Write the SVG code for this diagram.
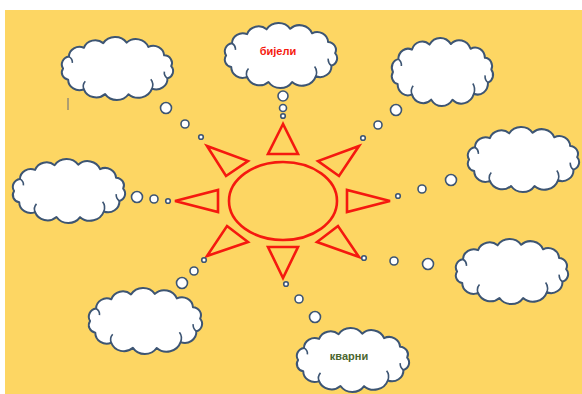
<svg xmlns="http://www.w3.org/2000/svg" xmlns:xlink="http://www.w3.org/1999/xlink" width="582" height="394" viewBox="0 0 582 394">
<style>
.cloud{fill:#fff;stroke:#3d5573;stroke-width:2;vector-effect:non-scaling-stroke;stroke-linejoin:round}
.inner{fill:none;stroke:#3d5573;stroke-width:1.6;vector-effect:non-scaling-stroke}
.dot{fill:#fff;stroke:#3d5573;stroke-width:1.6}
.ray{fill:none;stroke:#f5190f;stroke-width:2.6;stroke-linejoin:miter}
.lbl{font-family:"Liberation Sans","DejaVu Sans",sans-serif;font-weight:bold;font-size:11px;text-anchor:middle}
</style>
<defs>
<g id="cloudShape">
<path class="cloud" d="M6,33 A7.8,7.8 0 0 1 11.4,21.2 A9.8,9.8 0 0 1 25.2,12.5 A11.1,11.1 0 0 1 43.1,7.9 A13,13 0 0 1 64.7,7.4 A12.3,12.3 0 0 1 84.7,11.7 A10,10 0 0 1 99.3,20 A7.5,7.5 0 0 1 105.8,30.7 A7.5,7.5 0 0 1 102.4,42.7 A10.5,10.5 0 0 1 88.1,52.9 A13.4,13.4 0 0 1 66.4,58.4 A13,13 0 0 1 44.8,58.3 A12.1,12.1 0 0 1 25.2,53.5 A10.4,10.4 0 0 1 10.7,44 A7.2,7.2 0 0 1 6,33 Z"/>
<path class="inner" d="M88.1,52.9 Q90,47.5 87,43.5 M25.2,53.5 Q23.5,49 26.5,45.5 M11.4,21.2 Q15,23.5 14.5,27.5 M102.4,42.7 Q99,40 99.5,36"/>
</g>
</defs>
<rect x="5" y="10" width="577" height="384" fill="#fdd663"/>
<line x1="68" y1="98" x2="68" y2="110" stroke="#7a7a7a" stroke-width="1.2"/>
<g id="sun">
<ellipse class="ray" cx="283" cy="201" rx="54" ry="39"/>
<polygon class="ray" points="283,124 268,154 298,154"/>
<polygon class="ray" points="283,278 268,247 298,247"/>
<polygon class="ray" points="175,201 218,190 218,212"/>
<polygon class="ray" points="390,201 347,190 347,212"/>
<polygon class="ray" points="207,146 248,161 226,176"/>
<polygon class="ray" points="359,146 318,161 339,176"/>
<polygon class="ray" points="227,226 248,242 207,256"/>
<polygon class="ray" points="338,226 317,242 359,257"/>
</g>
<g id="connectors">
<circle class="dot" cx="283" cy="96" r="5"/><circle class="dot" cx="283" cy="108" r="3.5"/><circle class="dot" cx="283" cy="116" r="2.3"/>
<circle class="dot" cx="166" cy="108" r="5.5"/><circle class="dot" cx="185" cy="124" r="4"/><circle class="dot" cx="201" cy="137" r="2.3"/>
<circle class="dot" cx="396" cy="110" r="5.5"/><circle class="dot" cx="378" cy="125" r="4"/><circle class="dot" cx="363" cy="138" r="2.3"/>
<circle class="dot" cx="451" cy="180" r="5.5"/><circle class="dot" cx="422" cy="189" r="4"/><circle class="dot" cx="398" cy="196" r="2.3"/>
<circle class="dot" cx="137" cy="197" r="5.5"/><circle class="dot" cx="154" cy="199" r="4"/><circle class="dot" cx="168" cy="201" r="2.3"/>
<circle class="dot" cx="182" cy="283" r="5.5"/><circle class="dot" cx="194" cy="271" r="4"/><circle class="dot" cx="204" cy="260" r="2.3"/>
<circle class="dot" cx="428" cy="264" r="5.5"/><circle class="dot" cx="394" cy="261" r="4"/><circle class="dot" cx="364" cy="258" r="2.3"/>
<circle class="dot" cx="315" cy="317" r="5.5"/><circle class="dot" cx="299" cy="299" r="4"/><circle class="dot" cx="286" cy="284" r="2.3"/>
</g>
<g id="cloud-ul"><use xlink:href="#cloudShape" transform="translate(56.585,35.13) scale(1.083,1.012)"/></g>
<g id="cloud-top"><use xlink:href="#cloudShape" transform="translate(219.54,21.07) scale(1.0927,1.0442)"/><text class="lbl" x="278" y="55" fill="#f5190f">бијели</text></g>
<g id="cloud-ur"><use xlink:href="#cloudShape" transform="translate(387.07,35.98) scale(0.9854,1.0924)"/></g>
<g id="cloud-r"><use xlink:href="#cloudShape" transform="translate(462.585,125.07) scale(1.083,1.0442)"/></g>
<g id="cloud-l"><use xlink:href="#cloudShape" transform="translate(7.54,157.1) scale(1.0927,1.0281)"/></g>
<g id="cloud-ll"><use xlink:href="#cloudShape" transform="translate(83.49,286.04) scale(1.1024,1.0602)"/></g>
<g id="cloud-lr"><use xlink:href="#cloudShape" transform="translate(450.54,237.07) scale(1.0927,1.0442)"/></g>
<g id="cloud-b"><use xlink:href="#cloudShape" transform="translate(291.54,326.1) scale(1.0927,1.0281)"/><text class="lbl" x="349" y="360" fill="#4b6630">кварни</text></g>
</svg>
